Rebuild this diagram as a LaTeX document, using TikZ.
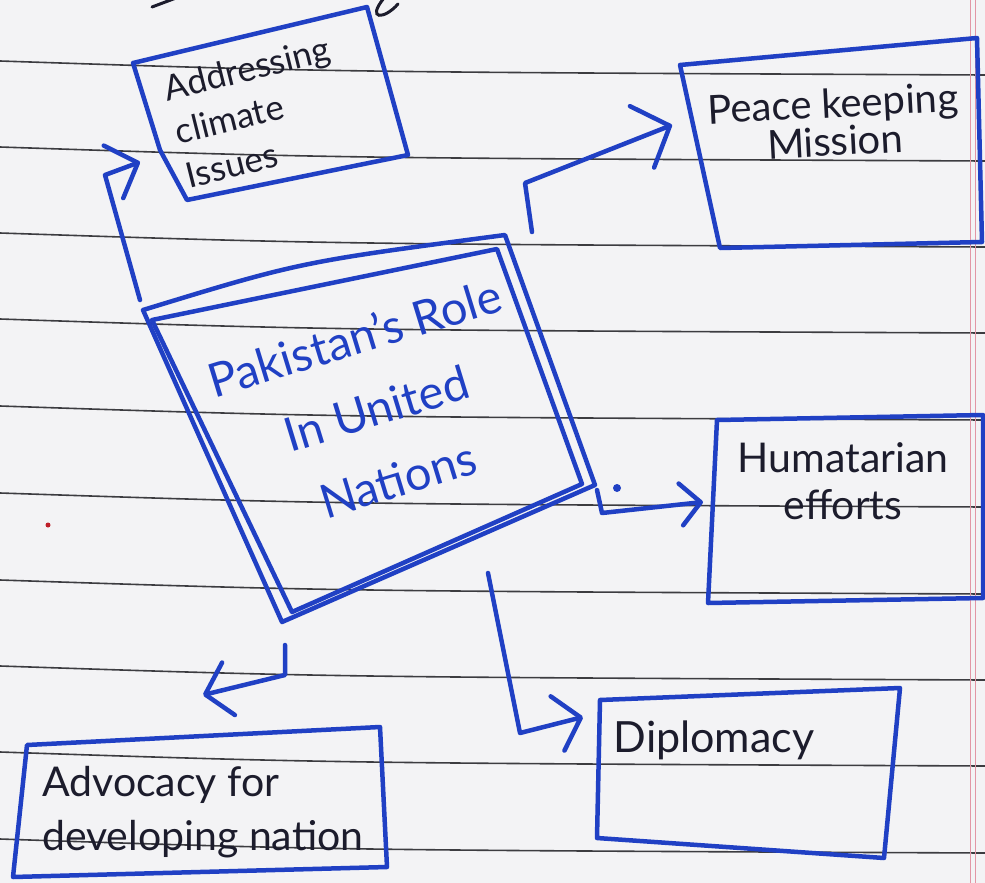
\documentclass[tikz,border=0pt]{standalone}
\usepackage{fontspec}
\setmainfont{Lato}
\usetikzlibrary{arrows.meta}
\definecolor{paper}{RGB}{243,243,245}
\definecolor{ink}{RGB}{32,64,196}
\definecolor{pen}{RGB}{28,28,44}
\definecolor{rulecol}{RGB}{60,60,64}
\definecolor{margincol}{RGB}{226,150,165}
\definecolor{reddot}{RGB}{190,30,40}
\begin{document}
\begin{tikzpicture}[x=1pt,y=-1pt,
  ruling/.style={rulecol, line width=1.6pt},
  marginline/.style={margincol, line width=1pt},
  boxline/.style={ink, line width=4.5pt, line join=round, line cap=round},
  conn/.style={ink, line width=4.5pt, line join=round, line cap=round},
  tip/.style 2 args={-{Straight Barb[length=#1,width=#2,round]}},
  handtext/.style={pen, inner sep=0pt, align=center},
  scribble/.style={pen, line width=3pt, line cap=round}]
\useasboundingbox (0,0) rectangle (985,883);
\fill[paper] (0,0) rectangle (985,883);
% ruled paper
\foreach \yy in {74,160,246,332,419,506,593,679,765,852}
  \draw[ruling] (0,\yy-13) .. controls (330,\yy-2) .. (985,\yy+1);
\draw[marginline] (970,0) -- (970,883);
\draw[marginline] (975,0) -- (975,883);
% fragments of writing cut at the top edge
\draw[scribble] (152,7) -- (176,-2);
\draw[scribble] (384,-2) .. controls (366,20) and (384,20) .. (398,4);

% ---------- central box ----------
\coordinate (cA) at (143,310);
\coordinate (cB) at (505,235);
\coordinate (cC) at (595,485);
\coordinate (cD) at (282,622);
\coordinate (ca) at (152,320);
\coordinate (cb) at (497,249);
\coordinate (cc) at (582,484);
\coordinate (cd) at (292,612);
\draw[boxline] (cA) .. controls (300,262) .. (cB) -- (cC) -- (cD) -- cycle;
\draw[boxline] (ca) -- (cb) -- (cc) -- (cd) -- cycle;
\node[handtext, ink, rotate=17, font=\fontsize{47}{74}\selectfont] (title) at (376,408)
  {Pakistan's Role\\In United\\Nations};

% ---------- Addressing climate issues ----------
\coordinate (ad1) at (133,63);
\coordinate (ad2) at (367,7);
\coordinate (ad3) at (408,155);
\coordinate (ad4) at (187,200);
\coordinate (ad5) at (160,150);
\draw[boxline] (ad1) -- (ad2) -- (ad3) -- (ad4) -- (ad5) -- cycle;
\node[handtext, align=left, rotate=14, font=\fontsize{35}{45}\selectfont] (addr) at (258,112)
  {Addressing\\climate\\Issues};

% ---------- Peace keeping Mission ----------
\coordinate (pk1) at (680,65);
\coordinate (pk2) at (977,38);
\coordinate (pk3) at (982,242);
\coordinate (pk4) at (720,248);
\draw[boxline] (pk1) -- (pk2) -- (pk3) -- (pk4) -- cycle;
\node[handtext, rotate=3, font=\fontsize{40}{38}\selectfont] (peace) at (834,122)
  {Peace keeping\\Mission};

% ---------- Humatarian efforts ----------
\coordinate (hu1) at (717,420);
\coordinate (hu2) at (983,415);
\coordinate (hu3) at (983,598);
\coordinate (hu4) at (708,603);
\draw[boxline] (hu1) -- (hu2) -- (hu3) -- (hu4) -- cycle;
\node[handtext, font=\fontsize{41}{47}\selectfont] (human) at (843,481)
  {Humatarian\\efforts};

% ---------- Diplomacy ----------
\coordinate (di1) at (600,700);
\coordinate (di2) at (900,688);
\coordinate (di3) at (884,858);
\coordinate (di4) at (597,838);
\draw[boxline] (di1) -- (di2) -- (di3) -- (di4) -- cycle;
\node[handtext, font=\fontsize{43}{46}\selectfont] (diplo) at (714,740) {Diplomacy};

% ---------- Advocacy for developing nation ----------
\coordinate (av1) at (27,745);
\coordinate (av2) at (380,727);
\coordinate (av3) at (387,867);
\coordinate (av4) at (13,877);
\draw[boxline] (av1) -- (av2) -- (av3) -- (av4) -- cycle;
\node[handtext, align=left, anchor=west, font=\fontsize{41}{54}\selectfont] (advo) at (42,812)
  {Advocacy for\\developing nation};

% ---------- connectors ----------
\coordinate (s1) at (140,300);
\coordinate (m1) at (105,175);
\coordinate (t1) at (140,162);
\draw[conn, tip={26pt}{56pt}] (s1) -- (m1) -- (t1);

\coordinate (s2) at (532,232);
\coordinate (m2) at (525,183);
\coordinate (t2) at (672,125);
\draw[conn, tip={30pt}{66pt}] (s2) -- (m2) -- (t2);

\coordinate (s3) at (597,490);
\coordinate (m3) at (602,513);
\coordinate (t3) at (703,502);
\draw[conn, tip={20pt}{42pt}] (s3) -- (m3) -- (t3);
\fill[ink] (617,488) circle (4);

\coordinate (s4) at (488,573);
\coordinate (m4) at (520,733);
\coordinate (t4) at (583,717);
\draw[conn, tip={24pt}{56pt}] (s4) -- (m4) -- (t4);

\coordinate (s5) at (285,645);
\coordinate (m5) at (285,675);
\coordinate (t5) at (203,695);
\draw[conn, tip={24pt}{54pt}] (s5) -- (m5) -- (t5);

\fill[reddot] (48,525) circle (2.5);
\end{tikzpicture}
\end{document}
